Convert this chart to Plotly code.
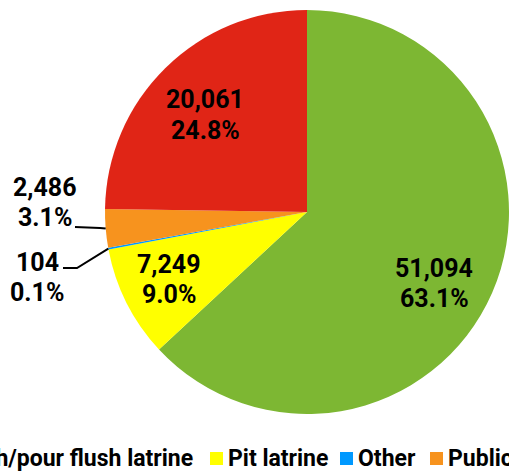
import numpy as np
import plotly.graph_objects as go

labels = ["Flush/pour flush latrine", "Pit latrine", "Other", "Public", "Open defecation"]
values = [51094, 7249, 104, 2486, 20061]
percents = ["63.1%", "9.0%", "0.1%", "3.1%", "24.8%"]
colors = ["#7DB733", "#FFFF00", "#0099FF", "#F7931E", "#E02516"]

W, H = 509, 473
CX, CY, R = 307, 212, 202
FONT = "Roboto, Arial, sans-serif"


def px(x):
    return x / W


def py(y):
    return 1 - y / H


fig = go.Figure()
fig.add_trace(go.Pie(
    labels=labels, values=values, sort=False, direction="clockwise", rotation=0,
    marker=dict(colors=colors, line=dict(width=0)), textinfo="none", showlegend=False,
    domain=dict(x=[px(CX - R), px(CX + R)], y=[py(CY + R), py(CY - R)]),
))

# slice mid angles (clockwise from top) for leader lines
frac = np.array(values) / sum(values)
mid = (np.cumsum(frac) - frac / 2) * 2 * np.pi
edge = [(CX + R * np.sin(a), CY - R * np.cos(a)) for a in mid]

# label positions (centre of the two text lines)
label_pos = [(434, 268), (169, 264), (37, 262), (45, 187), (205, 100)]
for (x, y), v, p in zip(label_pos, values, percents):
    for dy, t in [(0, f"{v:,}"), (30, p)]:
        fig.add_annotation(x=px(x), y=py(y + dy), xref="paper", yref="paper", text=t,
                           showarrow=False, xanchor="center", yanchor="middle",
                           font=dict(family=FONT, size=25, color="black", weight="bold"))

shapes = []
# leader line: Other
ex, ey = edge[2]
shapes.append(dict(type="path", xref="paper", yref="paper",
                   path=f"M {px(63)} {py(268)} L {px(77)} {py(268)} L {px(ex)} {py(ey)}",
                   line=dict(color="black", width=2)))
# leader line: Public
ex, ey = edge[3]
shapes.append(dict(type="path", xref="paper", yref="paper",
                   path=f"M {px(75)} {py(227)} L {px(100)} {py(228)} L {px(ex)} {py(ey)}",
                   line=dict(color="black", width=2)))

# legend row (wider than the canvas, so it is cut at both sides);
# the first entry is placed by its text end, the rest by their swatch
legend_x = [195, 210, 340, 430, 530]
for i, (x, lab, c) in enumerate(zip(legend_x, labels, colors)):
    sx = x - 260 if i == 0 else x
    shapes.append(dict(type="rect", xref="paper", yref="paper",
                       x0=px(sx), x1=px(sx + 13), y0=py(465), y1=py(452),
                       fillcolor=c, line=dict(width=0)))
    fig.add_annotation(x=px(x if i == 0 else x + 16), y=py(458), xref="paper", yref="paper",
                       text=lab, showarrow=False, xanchor="right" if i == 0 else "left",
                       yanchor="middle",
                       font=dict(family=FONT, size=23, color="black", weight="bold"))

fig.update_layout(width=W, height=H, margin=dict(l=0, r=0, t=0, b=0),
                  paper_bgcolor="white", plot_bgcolor="white", shapes=shapes)
fig.write_html("out.html", config={"displayModeBar": False},
               post_script="document.body.style.margin = '0';")
